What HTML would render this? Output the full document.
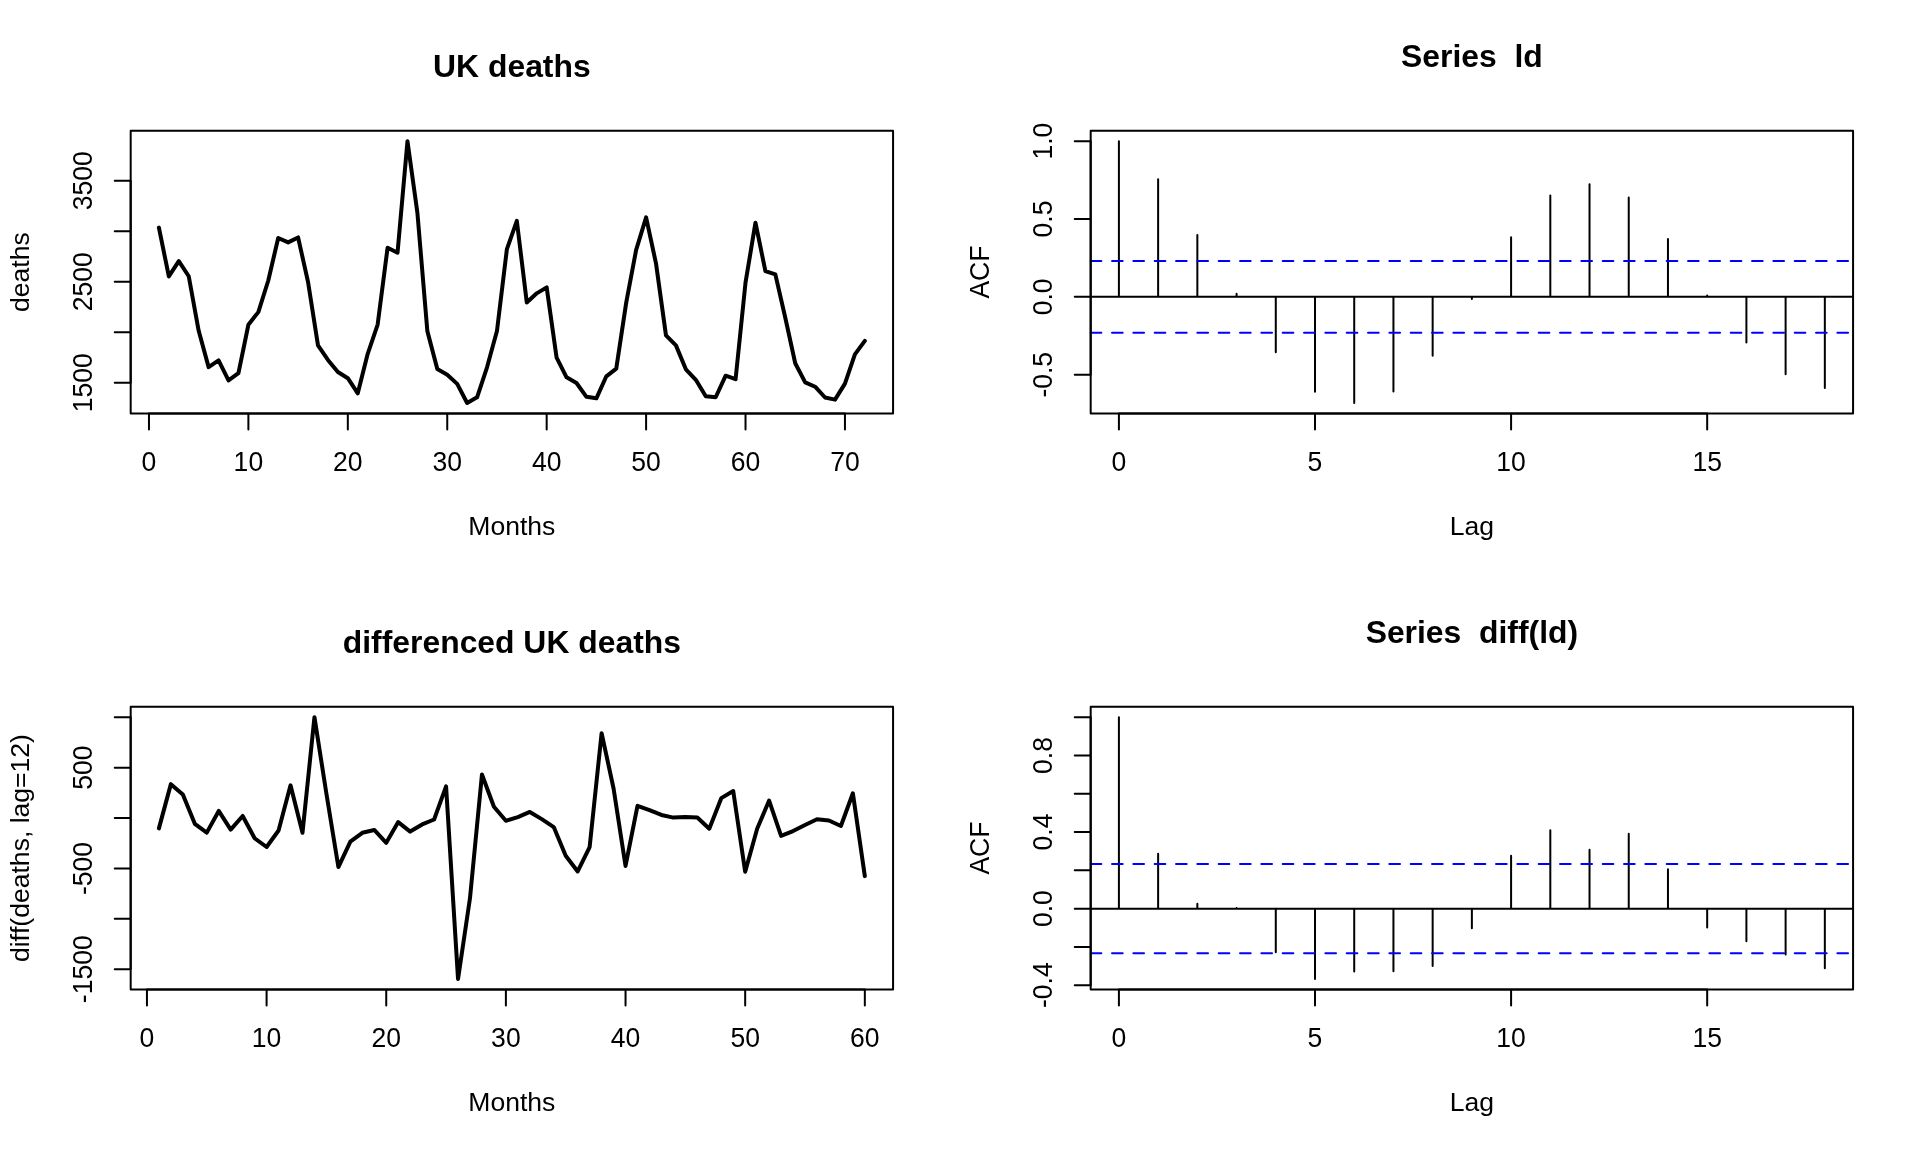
<!DOCTYPE html>
<html><head><meta charset="utf-8"><title>UK deaths</title>
<style>
html,body{margin:0;padding:0;background:#fff;}
svg{display:block;will-change:transform;}
text{font-family:"Liberation Sans",sans-serif;fill:#000;text-anchor:middle;font-variant-ligatures:none;font-feature-settings:"liga" 0,"clig" 0;font-kerning:none;}
.t{font-size:26.56px;}
.m{font-size:31.87px;font-weight:bold;}
.k{fill:none;stroke:#000;stroke-width:2.0;stroke-linecap:round;stroke-linejoin:round;}
.s{fill:none;stroke:#000;stroke-width:4.0;stroke-linecap:round;stroke-linejoin:round;}
.b{fill:none;stroke:#00f;stroke-width:2.0;stroke-dasharray:10.667 10.667;stroke-linecap:round;}
</style></head><body>
<svg width="1920" height="1152" viewBox="0 0 1920 1152">
<rect width="1920" height="1152" fill="#fff"/>
<polyline points="158.91,227.65 168.85,276.46 178.8,261.1 188.74,276.26 198.68,330.83 208.62,367.11 218.57,360.44 228.51,380.34 238.45,373.07 248.39,324.76 258.34,312.13 268.28,280.5 278.22,237.96 288.16,242.4 298.11,237.45 308.05,282.02 317.99,345.38 327.94,359.93 337.88,371.96 347.82,378.22 357.76,393.28 367.71,353.77 377.65,324.56 387.59,247.66 397.53,252.71 407.48,141.15 417.42,213.1 427.36,331.13 437.3,369.03 447.25,374.68 457.19,383.88 467.13,402.98 477.07,397.32 487.02,367.31 496.96,330.93 506.9,249.07 516.84,220.88 526.79,302.53 536.73,293.34 546.67,287.37 556.61,357.71 566.56,377.31 576.5,382.97 586.44,396.82 596.38,398.33 606.33,376.3 616.27,368.62 626.21,302.63 636.15,249.88 646.1,217.34 656.04,263.63 665.98,335.37 675.92,345.38 685.87,369.33 695.81,379.84 705.75,396.31 715.69,397.22 725.64,375.69 735.58,379.23 745.52,282.62 755.46,222.7 765.41,271.1 775.35,274.34 785.29,317.79 795.23,363.27 805.18,382.36 815.12,386.71 825.06,397.52 835,399.64 844.95,383.58 854.89,354.37 864.83,340.83" class="s"/>
<path d="M148.97 413.45H844.95M148.97 413.45v15.94M248.39 413.45v15.94M347.82 413.45v15.94M447.25 413.45v15.94M546.67 413.45v15.94M646.1 413.45v15.94M745.52 413.45v15.94M844.95 413.45v15.94M130.68 382.77V180.66M130.68 382.77h-15.94M130.68 332.24h-15.94M130.68 281.71h-15.94M130.68 231.19h-15.94M130.68 180.66h-15.94" class="k"/>
<rect x="130.68" y="130.68" width="762.39" height="282.78" class="k"/>
<text transform="translate(148.97 470.82) scale(1 1.035)" class="t">0</text>
<text transform="translate(248.39 470.82) scale(1 1.035)" class="t">10</text>
<text transform="translate(347.82 470.82) scale(1 1.035)" class="t">20</text>
<text transform="translate(447.25 470.82) scale(1 1.035)" class="t">30</text>
<text transform="translate(546.67 470.82) scale(1 1.035)" class="t">40</text>
<text transform="translate(646.1 470.82) scale(1 1.035)" class="t">50</text>
<text transform="translate(745.52 470.82) scale(1 1.035)" class="t">60</text>
<text transform="translate(844.95 470.82) scale(1 1.035)" class="t">70</text>
<text transform="translate(92.43 382.77) rotate(-90) scale(1 1.035)" class="t">1500</text>
<text transform="translate(92.43 281.71) rotate(-90) scale(1 1.035)" class="t">2500</text>
<text transform="translate(92.43 180.66) rotate(-90) scale(1 1.035)" class="t">3500</text>
<text x="511.87" y="534.57" class="t">Months</text>
<text transform="translate(28.68 272.06) rotate(-90)" class="t">deaths</text>
<text x="511.87" y="76.8" class="m" xml:space="preserve">UK deaths</text>
<path d="M1118.91 296.87V141.15M1158.13 296.87V179.29M1197.35 296.87V235.06M1236.57 296.87V293.85M1275.78 296.87V352.29M1315 296.87V391.64M1354.22 296.87V402.98M1393.44 296.87V391.54M1432.65 296.87V355.77M1471.87 296.87V298.89M1511.09 296.87V237.19M1550.31 296.87V195.62M1589.53 296.87V184.26M1628.74 296.87V197.52M1667.96 296.87V239.01M1707.18 296.87V295.4M1746.4 296.87V342.61M1785.61 296.87V374.23M1824.83 296.87V388.06M1090.68 296.87H1853.07" class="k"/>
<path d="M1090.68 260.9H1853.07M1090.68 332.84H1853.07" class="b"/>
<path d="M1118.91 413.45H1707.18M1118.91 413.45v15.94M1315 413.45v15.94M1511.09 413.45v15.94M1707.18 413.45v15.94M1090.68 374.73V141.15M1090.68 374.73h-15.94M1090.68 296.87h-15.94M1090.68 219.01h-15.94M1090.68 141.15h-15.94" class="k"/>
<rect x="1090.68" y="130.68" width="762.39" height="282.78" class="k"/>
<text transform="translate(1118.91 470.82) scale(1 1.035)" class="t">0</text>
<text transform="translate(1315 470.82) scale(1 1.035)" class="t">5</text>
<text transform="translate(1511.09 470.82) scale(1 1.035)" class="t">10</text>
<text transform="translate(1707.18 470.82) scale(1 1.035)" class="t">15</text>
<text transform="translate(1052.43 374.73) rotate(-90) scale(1 1.035)" class="t">-0.5</text>
<text transform="translate(1052.43 296.87) rotate(-90) scale(1 1.035)" class="t">0.0</text>
<text transform="translate(1052.43 219.01) rotate(-90) scale(1 1.035)" class="t">0.5</text>
<text transform="translate(1052.43 141.15) rotate(-90) scale(1 1.035)" class="t">1.0</text>
<text x="1471.87" y="534.57" class="t">Lag</text>
<text transform="translate(988.68 272.06) rotate(-90) scale(1 1.035)" class="t">ACF</text>
<text x="1471.87" y="66.93" class="m" xml:space="preserve">Series  ld</text>
<polyline points="158.91,828.37 170.88,784.14 182.84,794.52 194.81,823.84 206.77,832.6 218.74,810.94 230.7,829.58 242.67,815.98 254.63,838.24 266.59,847.01 278.56,830.48 290.52,785.35 302.49,832.8 314.45,717.15 326.42,793.81 338.38,867.05 350.35,841.67 362.31,832.8 374.28,829.98 386.24,842.77 398.21,822.12 410.17,831.59 422.14,824.44 434.1,819.5 446.07,786.36 458.03,978.98 470,898.08 481.96,774.47 493.92,806.81 505.89,820.71 517.85,817.19 529.82,811.95 541.78,819.1 553.75,827.06 565.71,855.67 577.68,871.49 589.64,847.01 601.61,733.17 613.57,788.47 625.54,865.95 637.5,805.8 649.47,810.13 661.43,814.97 673.4,817.59 685.36,816.98 697.33,817.49 709.29,828.67 721.26,798.15 733.22,790.99 745.18,871.69 757.15,828.77 769.11,800.56 781.08,835.92 793.04,831.09 805.01,824.94 816.97,819.3 828.94,820.51 840.9,825.95 852.87,793.31 864.83,876.12" class="s"/>
<path d="M146.95 989.45H864.83M146.95 989.45v15.94M266.59 989.45v15.94M386.24 989.45v15.94M505.89 989.45v15.94M625.54 989.45v15.94M745.18 989.45v15.94M864.83 989.45v15.94M130.68 969.21V717.35M130.68 969.21h-15.94M130.68 918.84h-15.94M130.68 868.46h-15.94M130.68 818.09h-15.94M130.68 767.72h-15.94M130.68 717.35h-15.94" class="k"/>
<rect x="130.68" y="706.68" width="762.39" height="282.78" class="k"/>
<text transform="translate(146.95 1046.82) scale(1 1.035)" class="t">0</text>
<text transform="translate(266.59 1046.82) scale(1 1.035)" class="t">10</text>
<text transform="translate(386.24 1046.82) scale(1 1.035)" class="t">20</text>
<text transform="translate(505.89 1046.82) scale(1 1.035)" class="t">30</text>
<text transform="translate(625.54 1046.82) scale(1 1.035)" class="t">40</text>
<text transform="translate(745.18 1046.82) scale(1 1.035)" class="t">50</text>
<text transform="translate(864.83 1046.82) scale(1 1.035)" class="t">60</text>
<text transform="translate(92.43 969.21) rotate(-90) scale(1 1.035)" class="t">-1500</text>
<text transform="translate(92.43 868.46) rotate(-90) scale(1 1.035)" class="t">-500</text>
<text transform="translate(92.43 767.72) rotate(-90) scale(1 1.035)" class="t">500</text>
<text x="511.87" y="1110.57" class="t">Months</text>
<text transform="translate(28.68 848.06) rotate(-90)" class="t">diff(deaths, lag=12)</text>
<text x="511.87" y="652.8" class="m" xml:space="preserve">differenced UK deaths</text>
<path d="M1118.91 908.63V717.15M1158.13 908.63V853.65M1197.35 908.63V903.74M1236.57 908.63V907.92M1275.78 908.63V952.22M1315 908.63V978.98M1354.22 908.63V971.59M1393.44 908.63V971.25M1432.65 908.63V966.02M1471.87 908.63V928.19M1511.09 908.63V855.72M1550.31 908.63V830.21M1589.53 908.63V849.79M1628.74 908.63V833.76M1667.96 908.63V869.21M1707.18 908.63V927.5M1746.4 908.63V941.36M1785.61 908.63V954.49M1824.83 908.63V968.25M1090.68 908.63H1853.07" class="k"/>
<path d="M1090.68 864.09H1853.07M1090.68 953.17H1853.07" class="b"/>
<path d="M1118.91 989.45H1707.18M1118.91 989.45v15.94M1315 989.45v15.94M1511.09 989.45v15.94M1707.18 989.45v15.94M1090.68 985.22V717.15M1090.68 985.22h-15.94M1090.68 946.93h-15.94M1090.68 908.63h-15.94M1090.68 870.33h-15.94M1090.68 832.04h-15.94M1090.68 793.74h-15.94M1090.68 755.45h-15.94M1090.68 717.15h-15.94" class="k"/>
<rect x="1090.68" y="706.68" width="762.39" height="282.78" class="k"/>
<text transform="translate(1118.91 1046.82) scale(1 1.035)" class="t">0</text>
<text transform="translate(1315 1046.82) scale(1 1.035)" class="t">5</text>
<text transform="translate(1511.09 1046.82) scale(1 1.035)" class="t">10</text>
<text transform="translate(1707.18 1046.82) scale(1 1.035)" class="t">15</text>
<text transform="translate(1052.43 985.22) rotate(-90) scale(1 1.035)" class="t">-0.4</text>
<text transform="translate(1052.43 908.63) rotate(-90) scale(1 1.035)" class="t">0.0</text>
<text transform="translate(1052.43 832.04) rotate(-90) scale(1 1.035)" class="t">0.4</text>
<text transform="translate(1052.43 755.45) rotate(-90) scale(1 1.035)" class="t">0.8</text>
<text x="1471.87" y="1110.57" class="t">Lag</text>
<text transform="translate(988.68 848.06) rotate(-90) scale(1 1.035)" class="t">ACF</text>
<text x="1471.87" y="642.93" class="m" xml:space="preserve">Series  diff(ld)</text>
</svg>
</body></html>
